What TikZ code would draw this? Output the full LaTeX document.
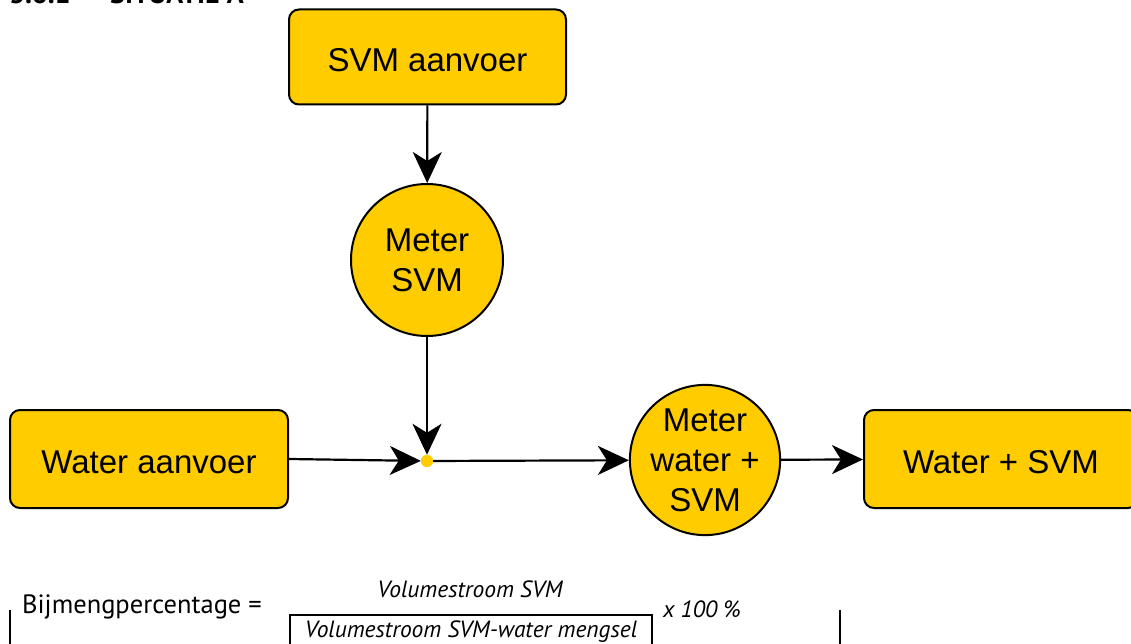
\documentclass[tikz,border=0pt]{standalone}
\usepackage{fontspec}
\setmainfont{Liberation Sans}
\newfontfamily\docfont{PT Sans}
\usetikzlibrary{arrows.meta}
\definecolor{gold}{HTML}{FFCC00}
\begin{document}
\begin{tikzpicture}[x=1pt,y=-1pt,
  box/.style={draw=black,line width=2pt,fill=gold,rounded corners=10pt,inner sep=0pt,text height=29pt,text depth=0pt,font=\fontsize{33}{40}\selectfont},
  meter/.style={draw=black,line width=2pt,fill=gold,circle,inner sep=0pt,align=center,font=\fontsize{33}{40}\selectfont},
  flow/.style={line width=2.2pt,-{Stealth[length=31pt,width=29pt,inset=9pt]}},
  doc/.style={inner sep=0pt,font=\docfont\fontsize{26.5}{30}\selectfont},
  docit/.style={inner sep=0pt,font=\docfont\itshape\fontsize{23.5}{28}\selectfont},
  cell/.style={line width=1.5pt}]
\useasboundingbox (0,0) rectangle (1131,644);
\clip (0,0) rectangle (1131,644);
% cut-off heading
\node[anchor=base west,inner sep=0pt,font=\docfont\bfseries\fontsize{28}{32}\selectfont] (hnum) at (9,4) {3.6.1};
\node[anchor=base west,inner sep=0pt,font=\docfont\bfseries\fontsize{28}{32}\selectfont] (htitle) at (110,4) {SITUATIE A};
% nodes
\node[box,minimum width=277pt,minimum height=95pt] (svm) at (427.5,57) {SVM aanvoer};
\node[meter,minimum size=152pt] (msvm) at (427,260) {Meter\\SVM};
\node[box,minimum width=278pt,minimum height=98pt] (water) at (149,459) {Water aanvoer};
\node[circle,fill=gold,inner sep=0pt,minimum size=12pt] (dot) at (427,461) {};
\node[meter,minimum size=140pt] (mmix) at (705,460) {Meter\\water +\\SVM};
\node[box,minimum width=274pt,minimum height=98pt] (out) at (1001,459) {Water + SVM};
% connectors
\draw[flow] (svm) -- (msvm);
\draw[flow] (msvm) -- (dot);
\draw[flow] (water.east) -- (dot);
\draw[flow] (dot) -- (mmix);
\draw[flow] (mmix) -- (out);
\node[circle,fill=gold,inner sep=0pt,minimum size=12pt] at (dot) {};
% formula
\draw[cell] (10,610) -- (10,650);
\draw[cell] (840,610) -- (840,650);
\draw[cell] (290,650) -- (290,615) -- (652,615) -- (652,650);
\node[doc] (lbl) at (142,607) {Bijmengpercentage =};
\node[docit] (num) at (470,589) {Volumestroom SVM};
\node[docit] (den) at (471,632) {Volumestroom SVM-water mengsel};
\node[docit] (pct) at (702,609) {x 100 \%};
\end{tikzpicture}
\end{document}
